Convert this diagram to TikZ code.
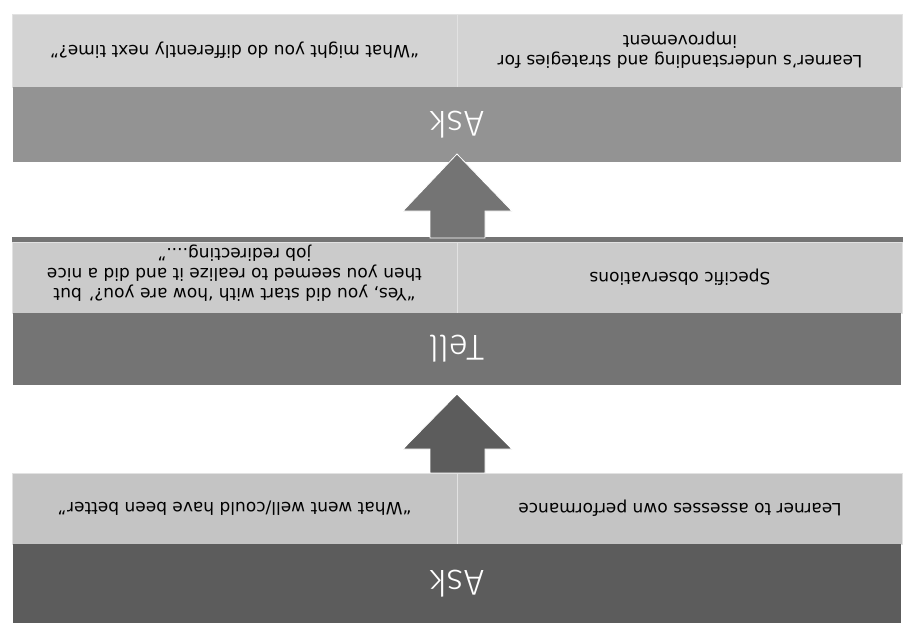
\documentclass[tikz,border=0pt]{standalone}
\usepackage{fontspec}
\setmainfont{DejaVu Sans}
\newfontfamily\bandfont{Fira Sans Light}
\definecolor{rowA}{HTML}{D3D3D3}
\definecolor{rowB}{HTML}{CBCBCB}
\definecolor{rowC}{HTML}{C4C4C4}
\definecolor{bandA}{HTML}{939393}
\definecolor{bandB}{HTML}{747474}
\definecolor{bandC}{HTML}{5C5C5C}
\definecolor{edgec}{HTML}{E2E2E2}
\begin{document}
\begin{tikzpicture}[x=1pt,y=-1pt,
  cell/.style={rectangle, draw=edgec, line width=1pt, inner sep=0pt, minimum width=445pt, minimum height=73pt},
  celltext/.style={inner sep=0pt, rotate=180, align=center, font=\fontsize{17}{20}\selectfont, text=black},
  band/.style={rectangle, inner sep=0pt, minimum width=888pt},
  bandtext/.style={inner sep=0pt, rotate=180, text=white, font=\bandfont\fontsize{36}{40}\selectfont},
  blockarrow/.style={draw=white, line width=0.8pt}]
\useasboundingbox (0,0) rectangle (906,635);
% top row
\node[cell, fill=rowA] (tl) at (234.5,50.5) {};
\node[cell, fill=rowA] (tr) at (680,50.5) {};
\node[celltext] (tlt) at (tl.center) {“What might you do differently next time?”};
\node[celltext] (trt) at (tr.center) {Learner’s understanding and strategies for\\improvement};
\node[band, fill=bandA, minimum height=75pt] (ask1) at (457,124.5) {};
\node[bandtext] (ask1t) at (ask1.center) {Ask};
% top arrow
\fill[bandB] (12,237) rectangle (903,242);
\filldraw[fill=bandB, blockarrow] (457,154) -- (512,211) -- (485,211) -- (485,238) -- (430,238) -- (430,211) -- (403,211) -- cycle;
% middle row
\node[cell, fill=rowB, minimum height=71pt] (ml) at (234.5,277.5) {};
\node[cell, fill=rowB, minimum height=71pt] (mr) at (680,277.5) {};
\node[celltext] (mlt) at (234.5,273) {“Yes, you did start with ‘how are you?’ but\\then you seemed to realize it and did a nice\\job redirecting....”};
\node[celltext] (mrt) at (mr.center) {Specific observations};
\node[band, fill=bandB, minimum height=72pt] (tell) at (457,349) {};
\node[bandtext] (tellt) at (tell.center) {Tell};
% bottom arrow
\filldraw[fill=bandC, blockarrow] (457,394) -- (512,449) -- (485,449) -- (485,473) -- (430,473) -- (430,449) -- (403,449) -- cycle;
% bottom row
\node[cell, fill=rowC, minimum height=71pt] (bl) at (234.5,508.5) {};
\node[cell, fill=rowC, minimum height=71pt] (br) at (680,508.5) {};
\node[celltext] (blt) at (bl.center) {“What went well/could have been better”};
\node[celltext] (brt) at (br.center) {Learner to assesses own performance};
\node[band, fill=bandC, minimum height=79pt] (ask2) at (457,583.5) {};
\node[bandtext] (ask2t) at (ask2.center) {Ask};
\end{tikzpicture}
\end{document}
